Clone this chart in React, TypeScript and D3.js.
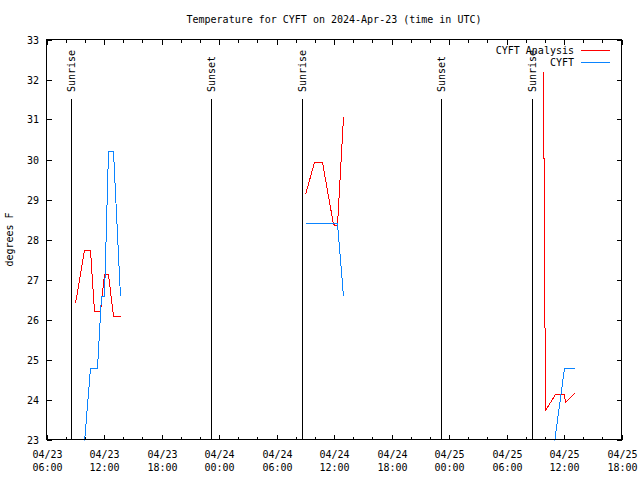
import React from "react";
import * as d3 from "d3";

const title = "Temperature for CYFT on 2024-Apr-23 (time in UTC)";
const yLabel = "degrees F";
const xStart = "2024-04-23T06:00";
const xEnd = "2024-04-25T18:00";
const yTicks = [23, 24, 25, 26, 27, 28, 29, 30, 31, 32, 33];

// CYFT Analysis (red) — null breaks the line
const analysisTimes = [
  "2024-04-23T08:58", "2024-04-23T09:54", "2024-04-23T10:32", "2024-04-23T10:55", "2024-04-23T11:33",
  "2024-04-23T12:00", "2024-04-23T12:25", "2024-04-23T12:55", "2024-04-23T13:42",
  "2024-04-24T00:00",
  "2024-04-24T09:00", "2024-04-24T09:56", "2024-04-24T10:47", "2024-04-24T11:56", "2024-04-24T12:06",
  "2024-04-24T12:20", "2024-04-24T12:56",
  "2024-04-25T00:00",
  "2024-04-25T09:46", "2024-04-25T09:59", "2024-04-25T11:02", "2024-04-25T11:58", "2024-04-25T12:04",
  "2024-04-25T13:01",
];
const analysisValues: (number | null)[] = [
  26.42, 27.75, 27.75, 26.22, 26.22, 27.14, 27.14, 26.09, 26.09,
  null,
  29.15, 29.94, 29.94, 28.4, 28.35, 28.35, 31.07,
  null,
  32.18, 23.75, 24.14, 24.14, 23.94, 24.17,
];

// CYFT observations (blue)
const obsTimes = [
  "2024-04-23T09:54", "2024-04-23T10:32", "2024-04-23T11:15", "2024-04-23T11:40", "2024-04-23T12:00",
  "2024-04-23T12:25", "2024-04-23T12:55", "2024-04-23T13:42",
  "2024-04-24T00:00",
  "2024-04-24T09:00", "2024-04-24T12:20", "2024-04-24T12:57",
  "2024-04-25T00:00",
  "2024-04-25T11:00", "2024-04-25T12:00", "2024-04-25T13:02",
];
const obsValues: (number | null)[] = [
  22.95, 24.79, 24.79, 26.6, 26.6, 30.21, 30.21, 26.6,
  null,
  28.42, 28.42, 26.6,
  null,
  22.95, 24.79, 24.79,
];

const sunTimes = [
  "2024-04-23T08:34", "2024-04-23T23:10", "2024-04-24T08:37", "2024-04-24T23:11", "2024-04-25T08:40",
];
const sunLabels = ["Sunrise", "Sunset", "Sunrise", "Sunset", "Sunrise"];

const seriesNames = ["CYFT Analysis", "CYFT"];
const seriesColors = ["#ff0000", "#0a84ff"];

const parse = d3.utcParse("%Y-%m-%dT%H:%M");
const FONT = "'DejaVu Sans Mono', 'Liberation Mono', monospace";

export default function App() {
  const W = 640, H = 480;
  const L = 46.5, R = 621.5, T = 39.5, B = 439.5;
  const x = d3.scaleUtc().domain([parse(xStart)!, parse(xEnd)!]).range([L, R]);
  const y = d3.scaleLinear().domain([23, 33]).range([B, T]);

  const majors = d3.utcHour.every(6)!.range(parse(xStart)!, d3.utcMinute.offset(parse(xEnd)!, 1));
  const minors = d3.utcHour.every(2)!.range(parse(xStart)!, d3.utcMinute.offset(parse(xEnd)!, 1));
  const fmtD = d3.utcFormat("%m/%d");
  const fmtT = d3.utcFormat("%H:%M");

  type P = { t: Date; v: number | null };
  const mk = (ts: string[], vs: (number | null)[]): P[] => ts.map((t, i) => ({ t: parse(t)!, v: vs[i] }));
  const line = d3
    .line<P>()
    .defined((d) => d.v !== null)
    .x((d) => Math.round(x(d.t)) + 0.5)
    .y((d) => Math.round(y(d.v as number)) + 0.5);

  const series = [mk(analysisTimes, analysisValues), mk(obsTimes, obsValues)];

  return (
    <svg
      width={W}
      height={H}
      style={{ position: "absolute", left: 0, top: 0, background: "#fff" }}
      fontFamily={FONT}
      fontSize={10}
    >
      <rect x={0} y={0} width={W} height={H} fill="#fff" />
      <defs>
        <clipPath id="plot">
          <rect x={L} y={T} width={R - L} height={B - T + 1} />
        </clipPath>
      </defs>
      <text x={(L + R) / 2} y={23} textAnchor="middle" fill="#000">
        {title}
      </text>
      <text transform={`translate(13,${(T + B) / 2}) rotate(-90)`} textAnchor="middle" fill="#000">
        {yLabel}
      </text>

      {/* y ticks */}
      {yTicks.map((v) => {
        const yy = Math.round(y(v)) + 0.5;
        return (
          <g key={"y" + v}>
            <line x1={L} x2={L + 5} y1={yy} y2={yy} stroke="#000" shapeRendering="crispEdges" />
            <line x1={R} x2={R - 5} y1={yy} y2={yy} stroke="#000" shapeRendering="crispEdges" />
            <text x={39} y={yy} dy="0.35em" textAnchor="end" fill="#000">
              {v}
            </text>
          </g>
        );
      })}

      {/* x minor ticks */}
      {minors.map((d, i) => {
        const xx = Math.round(x(d)) + 0.5;
        return (
          <g key={"m" + i}>
            <line x1={xx} x2={xx} y1={B} y2={B - 3} stroke="#000" shapeRendering="crispEdges" />
            <line x1={xx} x2={xx} y1={T} y2={T + 3} stroke="#000" shapeRendering="crispEdges" />
          </g>
        );
      })}
      {/* x major ticks */}
      {majors.map((d, i) => {
        const xx = Math.round(x(d)) + 0.5;
        return (
          <g key={"M" + i}>
            <line x1={xx} x2={xx} y1={B} y2={B - 5} stroke="#000" shapeRendering="crispEdges" />
            <line x1={xx} x2={xx} y1={T} y2={T + 5} stroke="#000" shapeRendering="crispEdges" />
            <text x={xx} y={454} dy="0.35em" textAnchor="middle" fill="#000">
              {fmtD(d)}
            </text>
            <text x={xx} y={467} dy="0.35em" textAnchor="middle" fill="#000">
              {fmtT(d)}
            </text>
          </g>
        );
      })}

      {/* sunrise / sunset */}
      {sunTimes.map((s, i) => {
        const xx = Math.round(x(parse(s)!)) + 0.5;
        return (
          <g key={"s" + i}>
            <line x1={xx} x2={xx} y1={99} y2={B} stroke="#000" shapeRendering="crispEdges" />
            <text transform={`translate(${xx},92) rotate(-90)`} dy="0.35em" textAnchor="start" fill="#000">
              {sunLabels[i]}
            </text>
          </g>
        );
      })}

      {/* data */}
      <g clipPath="url(#plot)">
        {series.map((s, i) => (
          <path
            key={"p" + i}
            d={line(s) || ""}
            fill="none"
            stroke={seriesColors[i]}
            strokeWidth={1}
            shapeRendering="crispEdges"
          />
        ))}
      </g>

      {/* legend */}
      {seriesNames.map((n, i) => {
        const yy = 50.5 + i * 12;
        return (
          <g key={"l" + i}>
            <text x={574} y={yy} dy="0.35em" textAnchor="end" fill="#000">
              {n}
            </text>
            <line x1={581} x2={610} y1={yy} y2={yy} stroke={seriesColors[i]} shapeRendering="crispEdges" />
          </g>
        );
      })}

      {/* frame */}
      <rect x={L} y={T} width={R - L} height={B - T} fill="none" stroke="#000" shapeRendering="crispEdges" />
    </svg>
  );
}
